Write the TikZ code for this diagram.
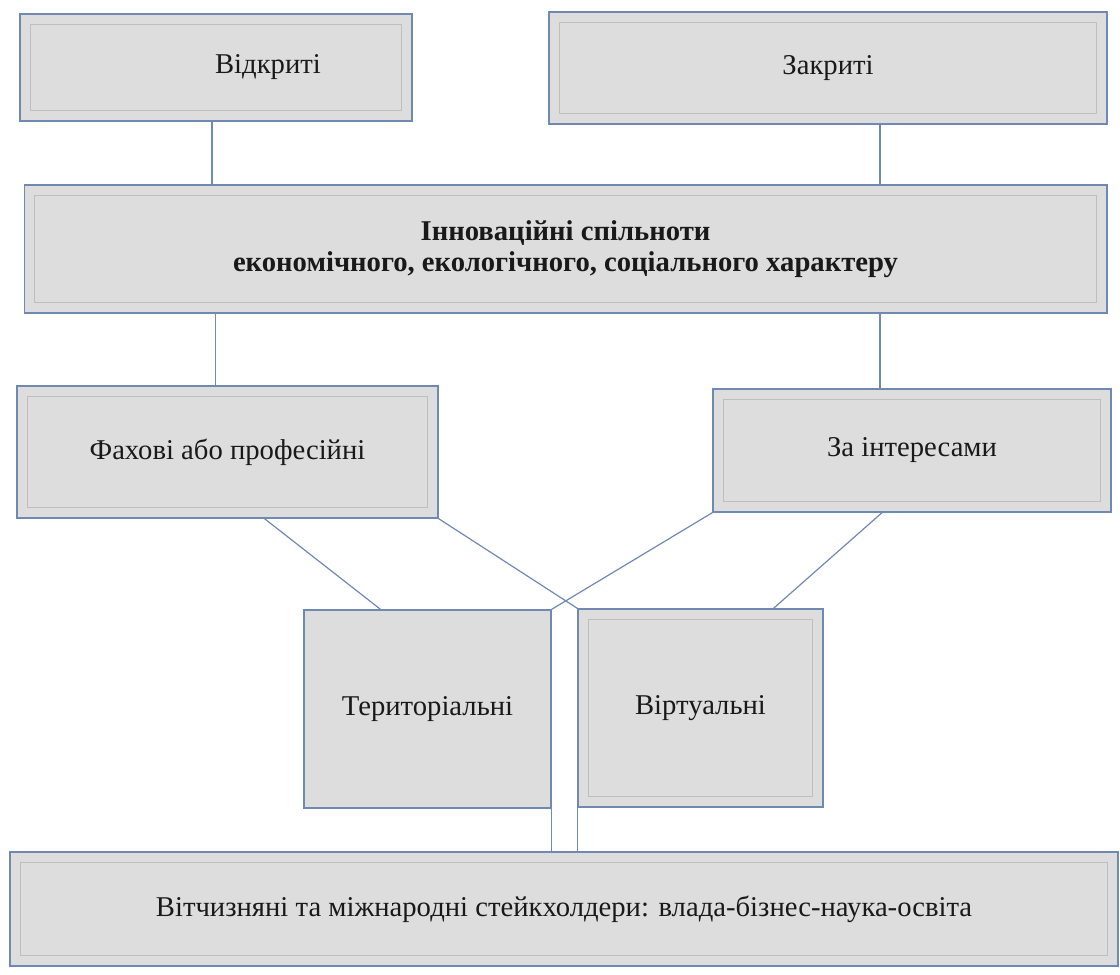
\documentclass[tikz,border=0pt]{standalone}
\usepackage{fontspec}
\setmainfont{Liberation Serif}
\definecolor{edgeblue}{HTML}{7089B3}
\definecolor{boxgray}{HTML}{DDDDDD}
\definecolor{innergray}{HTML}{BEBEBE}
\tikzstyle{plainbox}=[rectangle, draw=edgeblue, fill=boxgray, line width=1pt,
    inner sep=0pt, align=center, text=black!90, font=\fontsize{21.5}{23.5}\selectfont]
\tikzstyle{box}=[plainbox, path picture={
    \draw[innergray, line width=0.8pt]
      ([shift={(8pt,-8pt)}]path picture bounding box.north west) rectangle
      ([shift={(-8pt,8pt)}]path picture bounding box.south east);}]
\newcommand{\boxnode}{\node[box]}

\begin{document}
\begin{tikzpicture}[x=0.75pt, y=-0.75pt
    ,every edge/.style={draw=edgeblue, line width=0.9pt}
]
\useasboundingbox (0,0) rectangle (1120,974);
\boxnode[minimum width=294pt, minimum height=80pt] (open) at (216,67.5) {\hspace*{78pt}Відкриті};
\boxnode[minimum width=418.5pt, minimum height=84pt] (closed) at (828,68) {Закриті};
\boxnode[minimum width=812pt, minimum height=96pt, font=\fontsize{21.5}{23.5}\selectfont\bfseries] (core) at (565.5,249)
    {Інноваційні спільноти\\економічного, екологічного, соціального характеру};
\boxnode[minimum width=315.75pt, minimum height=99pt] (prof) at (227.5,452) {Фахові або професійні};
\boxnode[minimum width=298.5pt, minimum height=92.25pt] (interests) at (912,450.5) {За інтересами};
\node[plainbox, minimum width=185.25pt, minimum height=148.5pt] (terr) at (427.5,709) {Територіальні};
\boxnode[minimum width=183.75pt, minimum height=148.5pt] (virt) at (700.5,708) {Віртуальні};
\boxnode[minimum width=831pt, minimum height=85.5pt] (stake) at (564,909)
    {Вітчизняні та міжнародні стейкхолдери: влада-бізнес-наука-освіта};
\path
([xshift=-3pt]open.south) edge ([xshift=-3pt]open.south |- core.north)
([xshift=39pt]closed.south) edge ([xshift=39pt]closed.south |- core.north)
([xshift=-9pt]prof.north |- core.south) edge ([xshift=-9pt]prof.north)
([xshift=-24pt]interests.north |- core.south) edge ([xshift=-24pt]interests.north)
([xshift=27.75pt]prof.south) edge ([xshift=-35.25pt]terr.north)
(prof.south east) edge (virt.north west)
(interests.south west) edge (terr.north east)
([xshift=-22.5pt]interests.south) edge ([xshift=54.75pt]virt.north)
(terr.south east) edge (terr.south east |- stake.north)
(virt.south west) edge (virt.south west |- stake.north)
;
\end{tikzpicture}
\end{document}
